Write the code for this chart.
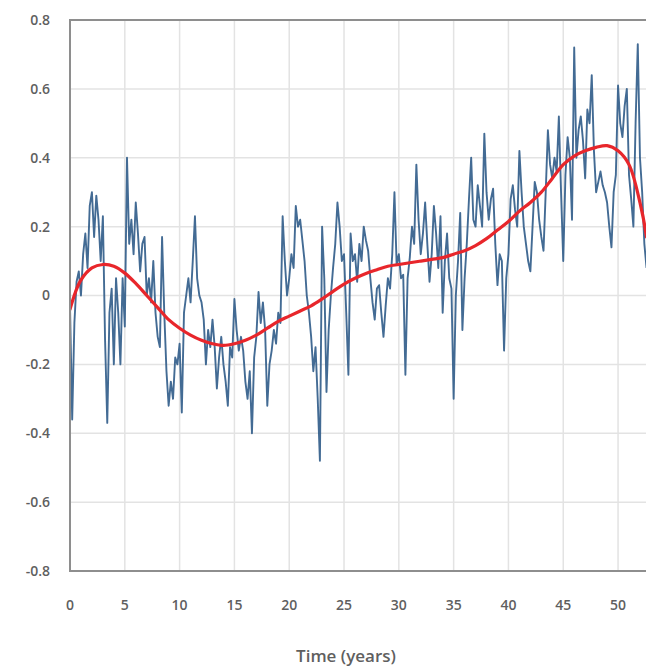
<!DOCTYPE html>
<html>
<head>
<meta charset="utf-8">
<script src="https://cdn.jsdelivr.net/npm/d3@7"></script>
<style>
  html, body { margin: 0; padding: 0; background: #fff; overflow: hidden; }
</style>
</head>
<body>
<script>
// Canvas config
const config = {
  width: 646,
  height: 672
};

const margin = { top: 20, right: 0, bottom: 101, left: 70 };

// Data
const yearStep = 0.2;
const anomaly = [
  -0.03, -0.36, -0.08, 0.04, 0.07, 0.0, 0.12, 0.18, 0.08, 0.26,
  0.30, 0.17, 0.29, 0.22, 0.10, 0.23, -0.13, -0.37, -0.05, 0.02,
  -0.20, 0.05, -0.05, -0.20, 0.05, -0.09, 0.40, 0.15, 0.22, 0.12,
  0.27, 0.18, 0.07, 0.15, 0.17, 0.0, 0.05, -0.02, 0.10, -0.05,
  -0.12, -0.15, 0.17, -0.05, -0.22, -0.32, -0.25, -0.30, -0.18, -0.20,
  -0.14, -0.34, -0.05, 0.0, 0.05, -0.02, 0.10, 0.23, 0.05, 0.0,
  -0.02, -0.07, -0.20, -0.10, -0.15, -0.07, -0.15, -0.27, -0.18, -0.12,
  -0.20, -0.25, -0.32, -0.15, -0.18, -0.01, -0.10, -0.16, -0.12, -0.16,
  -0.25, -0.30, -0.22, -0.40, -0.18, -0.12, 0.01, -0.08, -0.02, -0.10,
  -0.32, -0.20, -0.16, -0.10, -0.14, -0.05, -0.08, 0.23, 0.10, 0.0,
  0.05, 0.12, 0.08, 0.26, 0.20, 0.22, 0.16, 0.10, 0.0, -0.05,
  -0.12, -0.22, -0.15, -0.30, -0.48, 0.20, 0.05, -0.28, -0.10, 0.0,
  0.08, 0.15, 0.27, 0.20, 0.10, 0.12, -0.05, -0.23, 0.18, 0.10,
  0.12, 0.04, 0.15, 0.10, 0.20, 0.16, 0.13, 0.05, -0.02, -0.07,
  0.02, 0.03, -0.05, -0.12, -0.03, 0.05, 0.02, 0.12, 0.30, 0.09,
  0.12, 0.05, 0.06, -0.23, 0.05, 0.11, 0.20, 0.15, 0.38, 0.22,
  0.12, 0.18, 0.27, 0.15, 0.04, 0.12, 0.26, 0.18, 0.08, 0.23,
  -0.05, 0.10, 0.18, 0.05, 0.02, -0.30, 0.0, 0.10, 0.24, -0.10,
  0.05, 0.15, 0.28, 0.40, 0.22, 0.20, 0.32, 0.26, 0.20, 0.47,
  0.30, 0.22, 0.28, 0.31, 0.15, 0.03, 0.12, 0.10, -0.16, 0.05,
  0.12, 0.28, 0.32, 0.25, 0.20, 0.42, 0.30, 0.20, 0.15, 0.10,
  0.07, 0.20, 0.33, 0.30, 0.22, 0.17, 0.13, 0.30, 0.48, 0.38,
  0.34, 0.40, 0.36, 0.52, 0.30, 0.10, 0.35, 0.46, 0.40, 0.22,
  0.72, 0.40, 0.48, 0.52, 0.45, 0.34, 0.54, 0.50, 0.64, 0.42,
  0.30, 0.33, 0.36, 0.32, 0.30, 0.27, 0.20, 0.14, 0.30, 0.35,
  0.61, 0.50, 0.46, 0.55, 0.60, 0.35, 0.28, 0.20, 0.50, 0.73,
  0.40, 0.30, 0.15, 0.08
];

// Smooth trend (red)
const trendYears = [
  0, 0.5, 1, 2, 3, 4, 5, 6, 7, 8, 9, 10, 11, 12, 13, 14, 15, 16, 17, 18,
  19, 20, 21, 22, 23, 24, 25, 26, 27, 28, 29, 30, 31, 32, 33, 34, 35, 36,
  37, 38, 39, 40, 41, 42, 43, 44, 45, 46, 47, 48, 49, 50, 51, 52, 52.6
];
const trendValues = [
  -0.04, 0.01, 0.045, 0.08, 0.09, 0.085, 0.065, 0.035, 0.0, -0.035, -0.07,
  -0.095, -0.115, -0.13, -0.14, -0.145, -0.14, -0.13, -0.115, -0.095,
  -0.075, -0.06, -0.045, -0.03, -0.01, 0.012, 0.033, 0.05, 0.064, 0.075,
  0.085, 0.09, 0.095, 0.1, 0.105, 0.11, 0.12, 0.13, 0.145, 0.165, 0.19,
  0.215, 0.245, 0.27, 0.3, 0.34, 0.38, 0.405, 0.42, 0.43, 0.435, 0.42,
  0.38, 0.27, 0.17
];

const xTicks = [0, 5, 10, 15, 20, 25, 30, 35, 40, 45, 50];
const yTicks = [-0.8, -0.6, -0.4, -0.2, 0, 0.2, 0.4, 0.6, 0.8];

const fontFamily = "'Open Sans', sans-serif";
const textColor = "#5f5f5f";

// Creating the canvas
const svg = d3
  .select("body")
  .append("svg")
  .attr("width", config.width)
  .attr("height", config.height);

// Scales
const x = d3
  .scaleLinear()
  .domain([0, 52.55])
  .range([margin.left, config.width - margin.right]);

const y = d3
  .scaleLinear()
  .domain([-0.8, 0.8])
  .range([config.height - margin.bottom, margin.top]);

// Gridlines
svg
  .append("g")
  .selectAll("line")
  .data(yTicks)
  .enter()
  .append("line")
  .attr("x1", margin.left)
  .attr("x2", config.width)
  .attr("y1", d => y(d))
  .attr("y2", d => y(d))
  .attr("stroke", "#e3e3e3")
  .attr("stroke-width", 1.5);

svg
  .append("g")
  .selectAll("line")
  .data(xTicks)
  .enter()
  .append("line")
  .attr("x1", d => x(d))
  .attr("x2", d => x(d))
  .attr("y1", y(0.8))
  .attr("y2", y(-0.8))
  .attr("stroke", "#e3e3e3")
  .attr("stroke-width", 1.5);

// Clip for the series
svg
  .append("clipPath")
  .attr("id", "plot-clip")
  .append("rect")
  .attr("x", margin.left)
  .attr("y", y(0.8))
  .attr("width", config.width - margin.left)
  .attr("height", y(-0.8) - y(0.8));

const plot = svg.append("g").attr("clip-path", "url(#plot-clip)");

// Monthly series
const seriesLine = d3
  .line()
  .x((d, i) => x(i * yearStep))
  .y(d => y(d));

plot
  .append("path")
  .datum(anomaly)
  .attr("d", seriesLine)
  .attr("fill", "none")
  .attr("stroke", "#2f5b88")
  .attr("stroke-width", 1.9)
  .attr("stroke-linejoin", "round")
  .attr("opacity", 0.9);

// Trend line
const trendLine = d3
  .line()
  .curve(d3.curveCatmullRom)
  .x(d => x(d[0]))
  .y(d => y(d[1]));

plot
  .append("path")
  .datum(d3.zip(trendYears, trendValues))
  .attr("d", trendLine)
  .attr("fill", "none")
  .attr("stroke", "#e8262b")
  .attr("stroke-width", 3.2)
  .attr("stroke-linecap", "round");

// Frame
svg
  .append("rect")
  .attr("x", margin.left)
  .attr("y", y(0.8))
  .attr("width", config.width - margin.left + 10)
  .attr("height", y(-0.8) - y(0.8))
  .attr("fill", "none")
  .attr("stroke", "#8e8e8e")
  .attr("stroke-width", 2);

// Y tick labels (plain hyphen for negatives, as in the original)
svg
  .append("g")
  .selectAll("text")
  .data(yTicks)
  .enter()
  .append("text")
  .attr("x", 50)
  .attr("y", d => y(d))
  .attr("dy", "0.35em")
  .attr("text-anchor", "end")
  .attr("font-family", fontFamily)
  .attr("font-size", 14)
  .attr("font-weight", 600)
  .attr("fill", textColor)
  .text(d => (d === 0 ? "0" : d.toFixed(1)));

// X tick labels
svg
  .append("g")
  .selectAll("text")
  .data(xTicks)
  .enter()
  .append("text")
  .attr("x", d => x(d))
  .attr("y", 610)
  .attr("text-anchor", "middle")
  .attr("font-family", fontFamily)
  .attr("font-size", 14)
  .attr("font-weight", 600)
  .attr("fill", textColor)
  .text(d => d);

// Axis title
svg
  .append("text")
  .attr("x", 346)
  .attr("y", 662)
  .attr("text-anchor", "middle")
  .attr("font-family", fontFamily)
  .attr("font-size", 17)
  .attr("font-weight", 600)
  .attr("fill", textColor)
  .text("Time (years)");
</script>
</body>
</html>
